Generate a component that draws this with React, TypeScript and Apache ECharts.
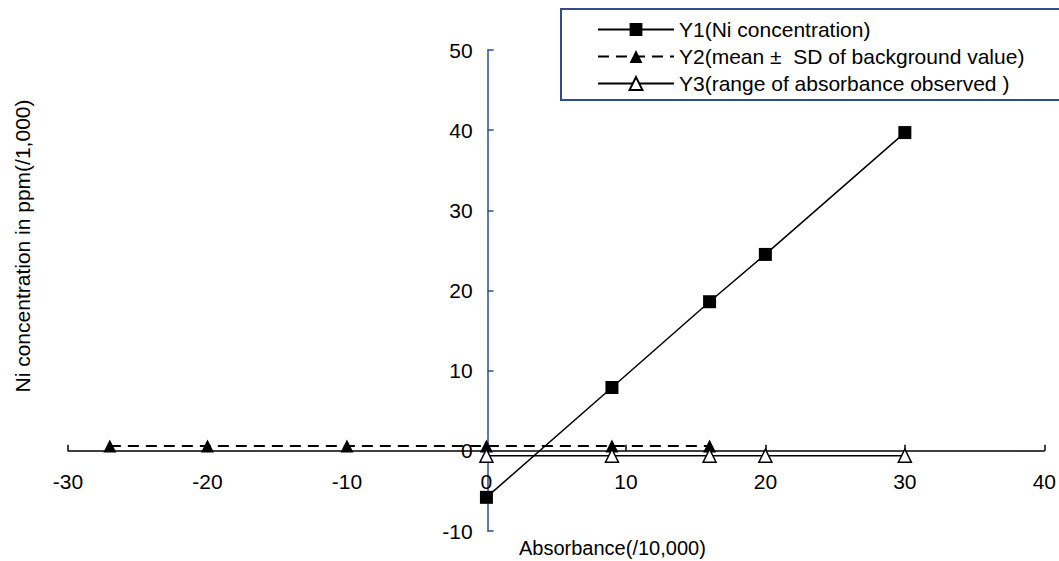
import React, { useEffect, useRef } from "react";
import * as echarts from "echarts";

const y1X = [0, 9, 16, 20, 30];
const y1Values = [-5.8, 7.9, 18.6, 24.5, 39.7];
const y2X = [-27, -20, -10, 0, 9, 16];
const y2Values = [0.6, 0.6, 0.6, 0.6, 0.6, 0.6];
const y3X = [0, 9, 16, 20, 30];
const y3Values = [-0.6, -0.6, -0.6, -0.6, -0.6];
const seriesNames = [
  "Y1(Ni concentration)",
  "Y2(mean ±  SD of background value)",
  "Y3(range of absorbance observed )",
];
const xTitle = "Absorbance(/10,000)";
const yTitle = "Ni concentration in ppm(/1,000)";

const FONT = "'Liberation Sans', Arial, sans-serif";
const BLUE = "#2F4C8C";

export default function App() {
  const ref = useRef<HTMLDivElement>(null);
  useEffect(() => {
    document.body.style.margin = "0";
    const chart = echarts.init(ref.current!, null, { renderer: "svg" });
    const zip = (xs: number[], ys: number[]) => xs.map((x, i) => [x, ys[i]]);
    const gridLeft = 68;
    const gridRight = 12;
    const gridTop = 50;
    const gridBottom = 30;
    const W = 1059;
    const H = 561;
    const plotW = W - gridLeft - gridRight;
    const plotH = H - gridTop - gridBottom;
    // place axes at the other axis's zero via offset
    const xZeroFrac = (0 - -30) / (40 - -30);
    const yZeroFrac = (0 - -10) / (50 - -10);
    const yAxisOffset = -xZeroFrac * plotW;
    const xAxisOffset = -yZeroFrac * plotH;
    chart.setOption({
      animation: false,
      textStyle: { fontFamily: FONT },
      grid: { left: gridLeft, right: gridRight, top: gridTop, bottom: gridBottom, containLabel: false },
      xAxis: {
        type: "value",
        min: -30,
        max: 40,
        interval: 10,
        position: "bottom",
        offset: xAxisOffset,
        axisLine: { onZero: false, lineStyle: { color: "#000", width: 1.5 } },
        axisTick: { inside: true, length: 6, lineStyle: { color: "#000", width: 1.5 } },
        axisLabel: { color: "#000", fontSize: 21, margin: 20, fontFamily: FONT },
        splitLine: { show: false },
      },
      yAxis: {
        type: "value",
        min: -10,
        max: 50,
        interval: 10,
        position: "left",
        offset: yAxisOffset,
        axisLine: { onZero: false, lineStyle: { color: BLUE, width: 1.5 } },
        axisTick: { inside: true, length: 6, lineStyle: { color: BLUE, width: 1.5 } },
        axisLabel: { color: "#000", fontSize: 21, margin: 15, fontFamily: FONT },
        splitLine: { show: false },
      },
      legend: {
        orient: "vertical",
        left: 592,
        top: 14,
        itemWidth: 76,
        itemHeight: 16,
        itemGap: 6,
        textStyle: { color: "#000", fontSize: 21, fontFamily: FONT },
        data: seriesNames,
      },
      graphic: [
        {
          type: "rect",
          shape: { x: 561, y: 9, width: 600, height: 91 },
          style: { fill: "none", stroke: BLUE, lineWidth: 2 },
          z: 1,
        },
        {
          type: "text",
          x: 519,
          y: 548,
          style: {
            text: xTitle,
            fontSize: 20,
            fontFamily: FONT,
            fill: "#000",
            verticalAlign: "middle",
            align: "left",
          },
        },
        {
          type: "text",
          x: 22,
          y: 246,
          rotation: Math.PI / 2,
          style: {
            text: yTitle,
            fontSize: 21,
            fontFamily: FONT,
            fill: "#000",
            verticalAlign: "middle",
            align: "center",
          },
        },
      ],
      series: [
        {
          name: seriesNames[0],
          type: "line",
          data: zip(y1X, y1Values),
          symbol: "rect",
          symbolSize: 13,
          itemStyle: { color: "#000" },
          lineStyle: { color: "#000", width: 1.5 },
        },
        {
          name: seriesNames[1],
          type: "line",
          data: zip(y2X, y2Values),
          symbol: "triangle",
          symbolSize: 13,
          itemStyle: { color: "#000" },
          lineStyle: { color: "#000", width: 2, type: [11, 7] },
        },
        {
          name: seriesNames[2],
          type: "line",
          data: zip(y3X, y3Values),
          symbol: "triangle",
          symbolSize: 13,
          itemStyle: { color: "#fff", borderColor: "#000", borderWidth: 1.5 },
          lineStyle: { color: "#000", width: 1.5 },
        },
      ],
    });
    return () => chart.dispose();
  }, []);
  return (
    <div
      ref={ref}
      style={{ position: "absolute", left: 0, top: 0, width: 1059, height: 561, background: "#fff" }}
    />
  );
}
